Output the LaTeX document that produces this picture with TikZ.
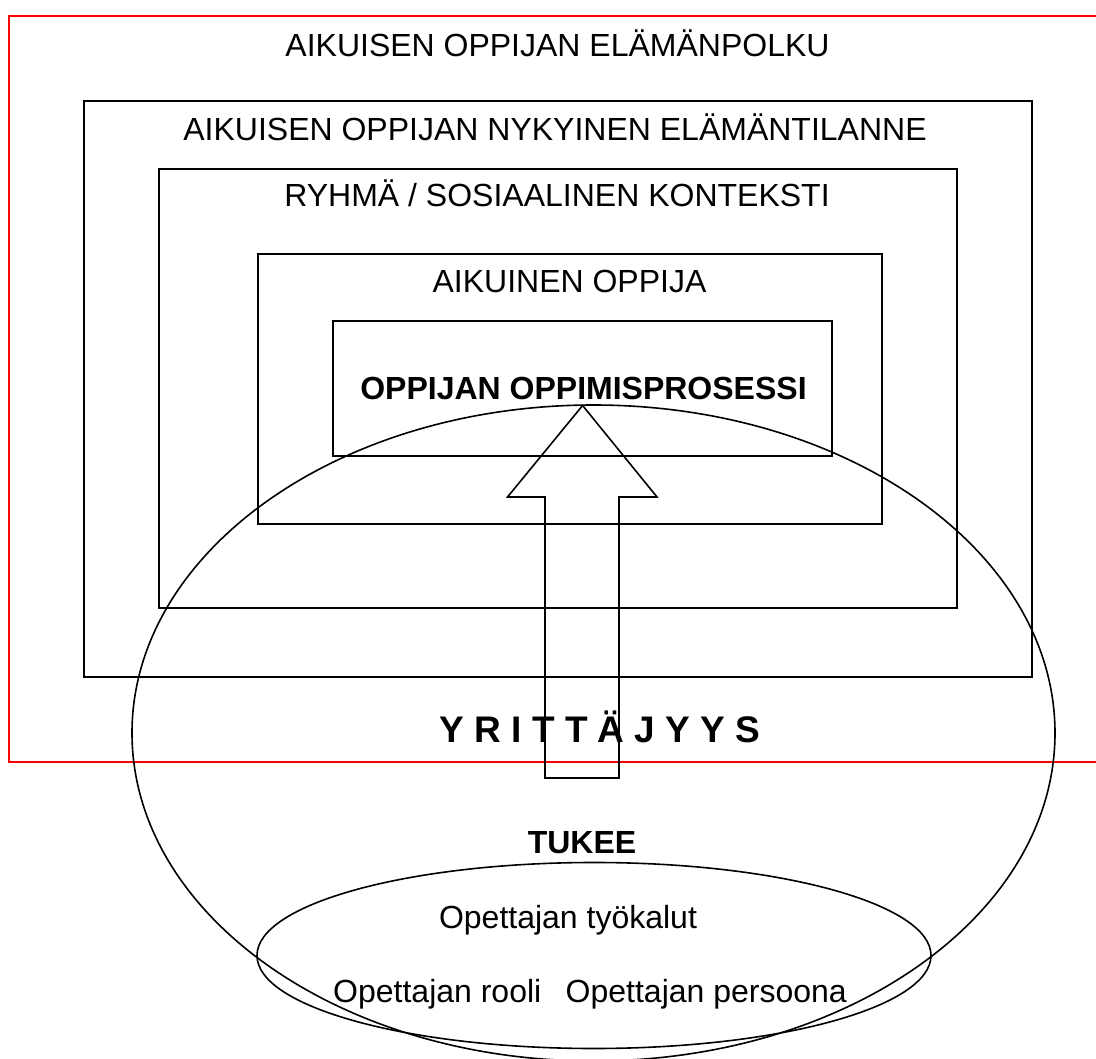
\documentclass[tikz,border=0pt]{standalone}
\usepackage{fontspec}
\setmainfont{Liberation Sans}
\usetikzlibrary{shapes.geometric}
\definecolor{framered}{RGB}{255,0,0}
\tikzset{
  framebox/.style={draw=black, line width=1.9pt, rectangle, inner sep=0pt, anchor=north west},
  redbox/.style={draw=framered, line width=1.8pt, rectangle, inner sep=0pt, anchor=north west},
  oval/.style={draw=black, line width=1.6pt, ellipse, inner sep=0pt},
  lbl/.style={anchor=base, inner sep=0pt, font=\fontsize{32}{38}\selectfont},
  blbl/.style={lbl, font=\fontsize{32}{38}\selectfont\bfseries},
  biglbl/.style={anchor=base, inner sep=0pt, font=\fontsize{37}{44}\selectfont\bfseries},
  arrowline/.style={draw=black, line width=1.6pt, line join=miter}
}
\begin{document}
\begin{tikzpicture}[x=1pt,y=-1pt]
\useasboundingbox (0,0) rectangle (1096,1059);
\clip (0,0) rectangle (1096,1059);
\fill[white] (0,0) rectangle (1096,1059);
% nested frames
\node[redbox, minimum width=1092pt, minimum height=746pt] (life) at (8,15) {};
\node[framebox, minimum width=948pt, minimum height=576pt] (now) at (83,100) {};
\node[framebox, minimum width=798pt, minimum height=439pt] (group) at (158,168) {};
\node[framebox, minimum width=624pt, minimum height=270pt] (learner) at (257,253) {};
\node[framebox, minimum width=499pt, minimum height=135pt] (process) at (332,320) {};
% titles
\node[lbl] (t1) at (557.5,57) {AIKUISEN OPPIJAN ELÄMÄNPOLKU};
\node[lbl] (t2) at (555,141) {AIKUISEN OPPIJAN NYKYINEN ELÄMÄNTILANNE};
\node[lbl] (t3) at (557,207) {RYHMÄ / SOSIAALINEN KONTEKSTI};
\node[lbl] (t4) at (569.5,293) {AIKUINEN OPPIJA};
\node[blbl] (t5) at (583.5,400) {OPPIJAN OPPIMISPROSESSI};
% ellipses
\node[oval, minimum width=923pt, minimum height=656pt] (entre) at (593.5,733) {};
\node[oval, minimum width=674pt, minimum height=186pt] (support) at (594,955.5) {};
% block arrow
\coordinate (tip) at (582.6,405.5);
\draw[arrowline] (tip) -- (657,497) -- (619,497) -- (619,778) -- (545,778) -- (545,497) -- (507.5,497) -- cycle;
% texts
\node[biglbl] (yr) at (600,742) {Y R I T T Ä J Y Y S};
\node[blbl] (tukee) at (582,853) {TUKEE};
\node[lbl] (tools) at (568,928) {Opettajan työkalut};
\node[lbl, anchor=base west] (role) at (333,1002) {Opettajan rooli};
\node[lbl, anchor=base east] (pers) at (847,1002) {Opettajan persoona};
\end{tikzpicture}
\end{document}
